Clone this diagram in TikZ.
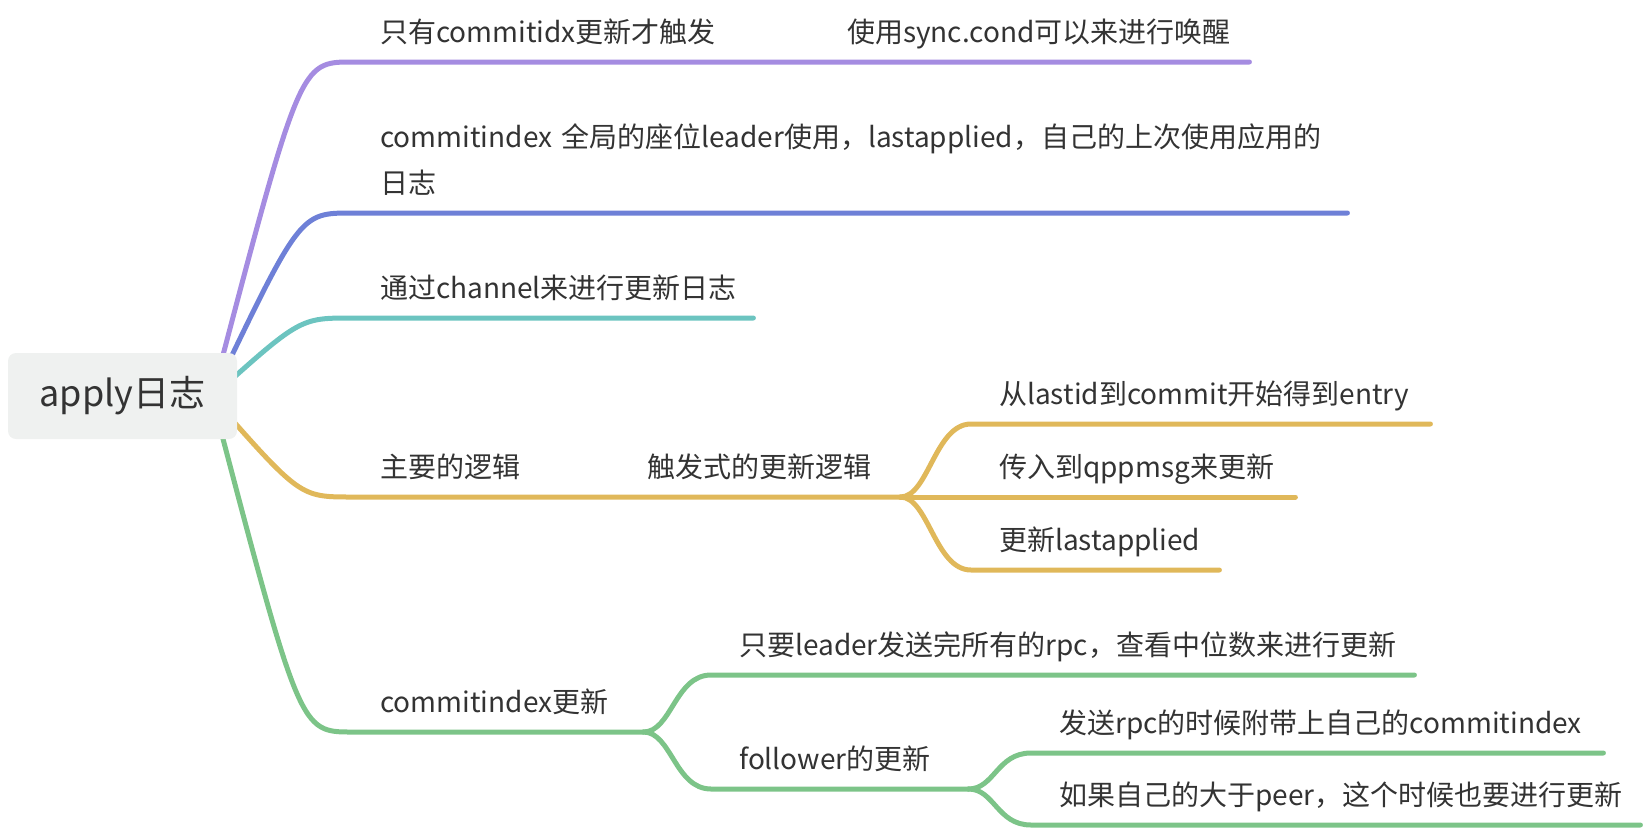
\documentclass[tikz,border=0pt]{standalone}
\usepackage{xcolor}
\usepackage{fontspec}
\setmainfont{Noto Sans CJK SC}
\usepackage{tikz}
\usetikzlibrary{calc,backgrounds}

\definecolor{purpleln}{HTML}{A58CE1}
\definecolor{blueln}{HTML}{6E80D7}
\definecolor{tealln}{HTML}{6CC4C0}
\definecolor{goldln}{HTML}{E0B85A}
\definecolor{greenln}{HTML}{7CC488}
\definecolor{rootfill}{HTML}{EFF1F0}
\definecolor{inkgray}{HTML}{333333}

\begin{document}
\begin{tikzpicture}[x=1pt,y=-1pt,
							every node/.style={text=inkgray},
							topic/.style={anchor=south west,inner xsep=28pt,inner ysep=19pt,text depth=0pt,
								align=left,font=\fontsize{28}{46}\selectfont},
							branch/.style={line width=5pt,line cap=round}]
			\useasboundingbox (0,0) rectangle (1648,833);
			\node[fill=rootfill,rounded corners=8pt,minimum width=229pt,minimum height=86pt,inner sep=0pt,
				font=\fontsize{36}{42}\selectfont] (root) at (122.5,396) {apply日志};
			\coordinate (hub) at (212,397);
			% purple
			\node[topic,text width=332pt] (sync) at (352,62) {只有commitidx更新才触发};
			\node[topic,text width=374pt] (cond) at (819,62) {使用sync.cond可以来进行唤醒};
			% blue
			\node[topic,text width=939pt,text depth=46pt] (idx) at (352,213) {commitindex 全局的座位leader使用，lastapplied，自己的上次使用应用的\\日志};
			% teal
			\node[topic,text width=345pt] (chan) at (352,318) {通过channel来进行更新日志};
			% gold
			\node[topic,text width=152pt] (logic) at (352,497) {主要的逻辑};
			\node[topic,text width=225pt] (trig) at (619,497) {触发式的更新逻辑};
			\node[topic,text width=403pt] (entry) at (971,424) {从lastid到commit开始得到entry};
			\node[topic,text width=268pt] (msg) at (971,497) {传入到qppmsg来更新};
			\node[topic,text width=192pt] (last) at (971,570) {更新lastapplied};
			% green
			\node[topic,text width=235pt] (cidx) at (352,732) {commitindex更新};
			\node[topic,text width=647pt] (median) at (711,675) {只要leader发送完所有的rpc，查看中位数来进行更新};
			\node[topic,text width=201pt] (follow) at (711,789) {follower的更新};
			\node[topic,text width=516pt] (carry) at (1031,753) {发送rpc的时候附带上自己的commitindex};
			\node[topic,text width=553pt] (peer) at (1031,825) {如果自己的大于peer，这个时候也要进行更新};

			\begin{scope}[on background layer]
				\draw[branch,purpleln] (hub) .. controls ($(sync.south west)+(-52,0)$) .. (sync.south west)
					-- (sync.south east) -- (cond.south west) -- (cond.south east);
				\draw[branch,blueln] (hub) .. controls ($(idx.south west)+(-52,0)$) .. (idx.south west) -- (idx.south east);
				\draw[branch,tealln] (hub) .. controls ($(chan.south west)+(-52,0)$) .. (chan.south west) -- (chan.south east);
				\draw[branch,goldln] (hub) .. controls ($(logic.south west)+(-52,0)$) .. (logic.south west)
					-- (logic.south east) -- (trig.south west) -- (trig.south east);
				\draw[branch,goldln] (trig.south east) .. controls +(28,0) and +(-36,0) .. (entry.south west) -- (entry.south east);
				\draw[branch,goldln] (trig.south east) -- (msg.south west) -- (msg.south east);
				\draw[branch,goldln] (trig.south east) .. controls +(28,0) and +(-36,0) .. (last.south west) -- (last.south east);
				\draw[branch,greenln] (hub) .. controls ($(cidx.south west)+(-52,0)$) .. (cidx.south west) -- (cidx.south east);
				\draw[branch,greenln] (cidx.south east) .. controls +(28,0) and +(-36,0) .. (median.south west) -- (median.south east);
				\draw[branch,greenln] (cidx.south east) .. controls +(28,0) and +(-36,0) .. (follow.south west) -- (follow.south east);
				\draw[branch,greenln] (follow.south east) .. controls +(26,0) and +(-34,0) .. (carry.south west) -- (carry.south east);
				\draw[branch,greenln] (follow.south east) .. controls +(26,0) and +(-34,0) .. (peer.south west) -- (peer.south east);
			\end{scope}
		\end{tikzpicture}
\end{document}
